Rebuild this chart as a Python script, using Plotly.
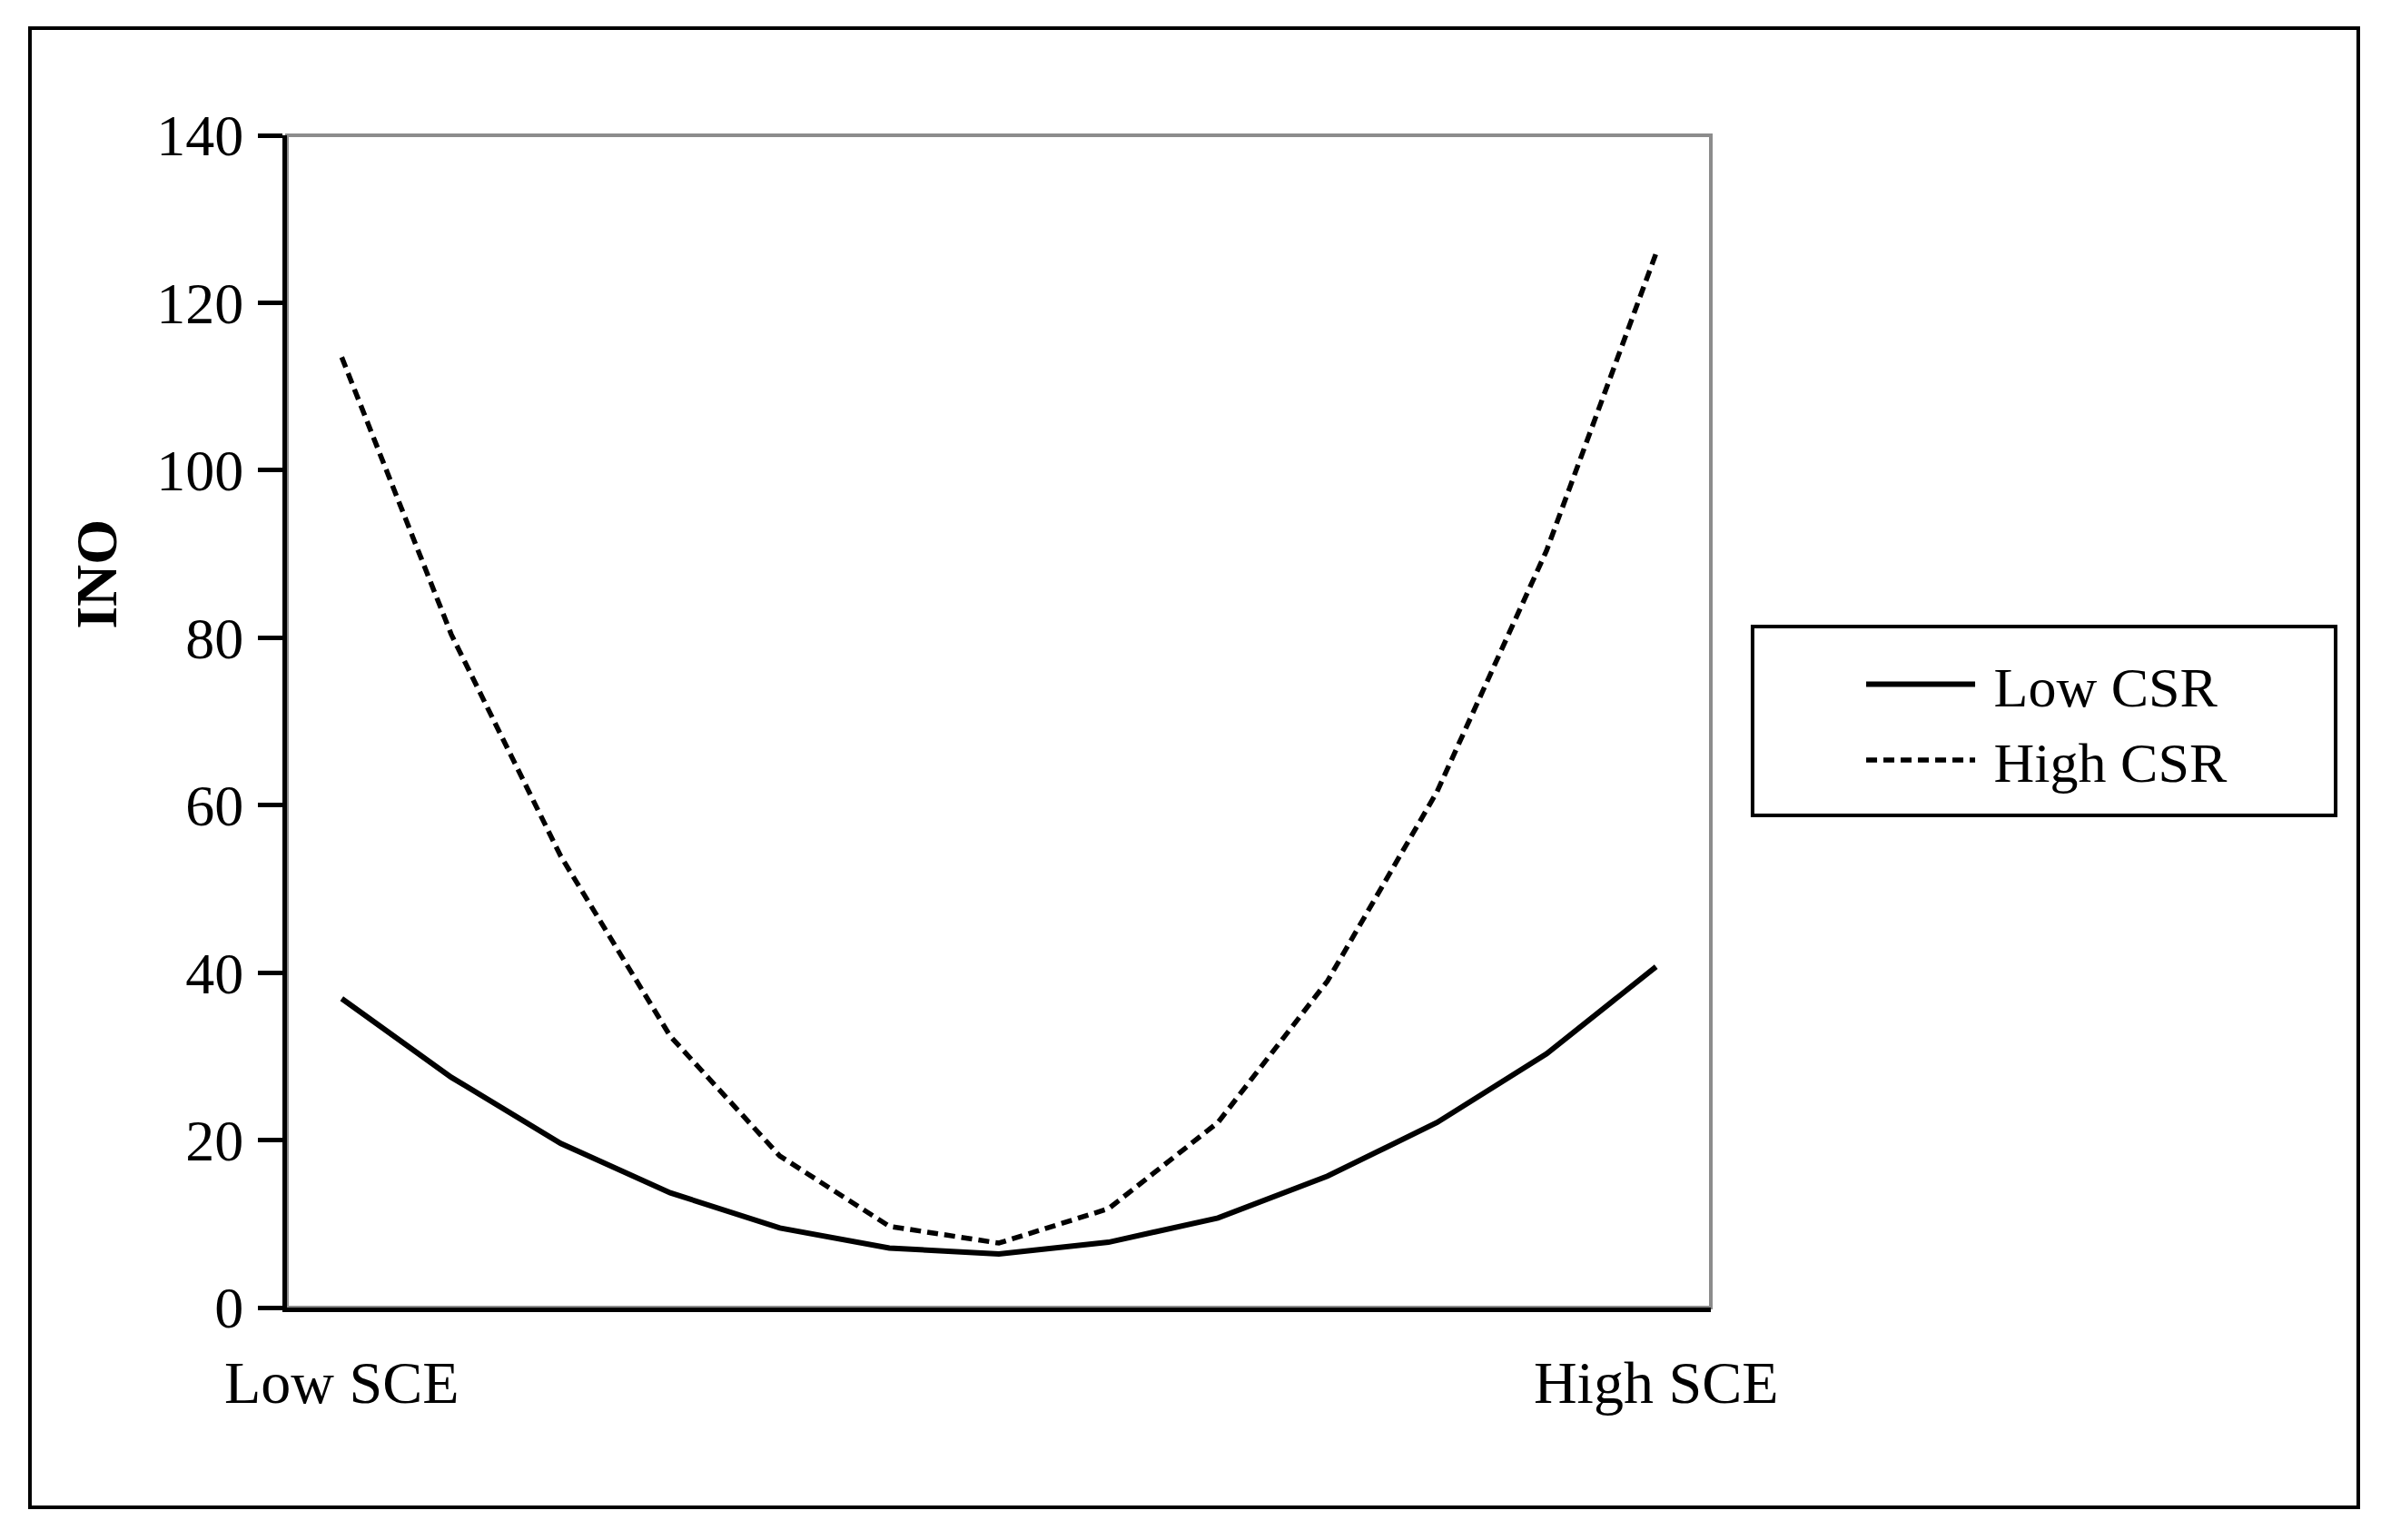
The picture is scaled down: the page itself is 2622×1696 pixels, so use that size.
import plotly.graph_objects as go

# ---- data ----
x_positions = list(range(13))
x_tick_vals = [0, 12]
x_tick_text = ["Low SCE", "High SCE"]
low_csr = [36.9, 27.5, 19.6, 13.7, 9.5, 7.1, 6.4, 7.8, 10.7, 15.7, 22.1, 30.3, 40.7]
high_csr = [113.5, 80.4, 53.9, 32.4, 18.1, 9.7, 7.7, 11.8, 22.1, 39.0, 61.6, 90.4, 125.9]
y_tick_vals = [0, 20, 40, 60, 80, 100, 120, 140]
series_names = ["Low CSR", "High CSR"]

FONT = "Liberation Serif, Times New Roman, serif"
NBSP = "\u00a0"

fig = go.Figure()
fig.add_trace(go.Scatter(x=x_positions, y=low_csr, mode="lines", name=NBSP + series_names[0],
                         line=dict(color="black", width=6)))
fig.add_trace(go.Scatter(x=x_positions, y=high_csr, mode="lines", name=NBSP + series_names[1],
                         line=dict(color="black", width=5.5, dash="12px,7px")))

fig.update_layout(
    width=2614, height=1688,
    margin=dict(l=308, r=738, t=141, b=256),
    paper_bgcolor="white", plot_bgcolor="white",
    font=dict(family=FONT, size=64, color="black"),
    showlegend=True,
    legend=dict(
        x=1.1059, y=0.568, xanchor="left", yanchor="top",
        borderwidth=0, bgcolor="rgba(0,0,0,0)",
        font=dict(family=FONT, size=62, color="black"),
        itemwidth=120,
        tracegroupgap=0,
    ),
    xaxis=dict(
        range=[-0.5, 12.5], tickmode="array", tickvals=x_tick_vals, ticktext=x_tick_text,
        showline=True, linecolor="black", linewidth=5,
        ticks="outside", ticklen=21, tickcolor="rgba(0,0,0,0)",
        showgrid=False, zeroline=False,
        tickfont=dict(family=FONT, size=66, color="black"),
    ),
    yaxis=dict(
        range=[0, 140], tickmode="array", tickvals=y_tick_vals,
        showline=True, linecolor="black", linewidth=5,
        ticks="outside", ticklen=27, tickwidth=5, tickcolor="black",
        ticklabelstandoff=3,
        showgrid=False, zeroline=False,
        tickfont=dict(family=FONT, size=64, color="black"),
    ),
    shapes=[
        dict(type="rect", xref="paper", yref="paper", x0=0, x1=1, y0=0, y1=1,
             line=dict(color="#8c8c8c", width=4), layer="below"),
        dict(type="rect", xref="paper", yref="paper", x0=-0.1805, x1=1.4547,
             y0=-0.1704, y1=1.0914, line=dict(color="black", width=4), layer="below"),
        dict(type="rect", xref="paper", yref="paper", x0=1.0293, x1=1.4388,
             y0=0.4198, y1=0.5810, line=dict(color="black", width=4), layer="below"),
    ],
    annotations=[
        dict(text="<b>INO</b>", xref="paper", yref="paper", x=-0.1333, y=0.626,
             xanchor="center", yanchor="middle",
             showarrow=False, textangle=-90,
             font=dict(family=FONT, size=64, color="black")),
    ],
)

fig.write_html("out.html")
